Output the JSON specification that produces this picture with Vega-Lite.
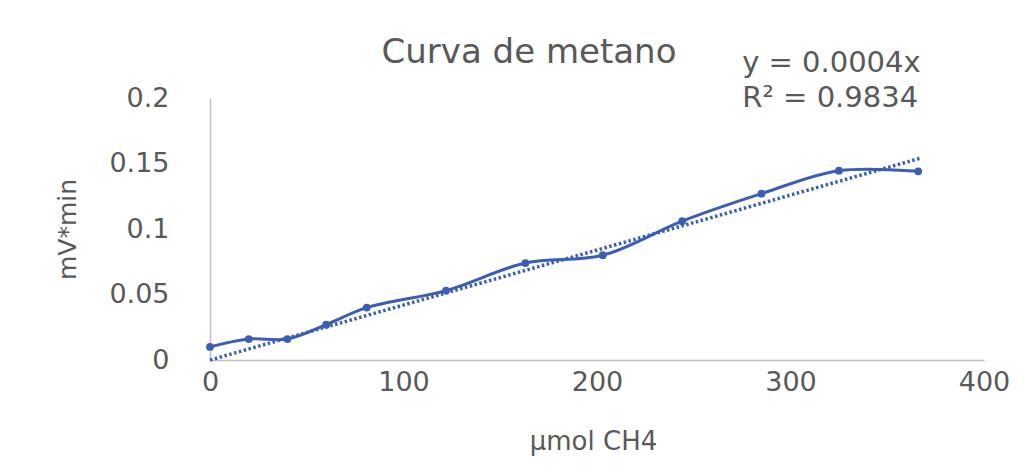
{
  "$schema": "https://vega.github.io/schema/vega-lite/v6.json",
  "width": 774,
  "height": 262,
  "padding": {"left": 210, "top": 98, "right": 45, "bottom": 112},
  "autosize": {"type": "none"},
  "background": "white",
  "config": {
    "view": {"stroke": null},
    "font": "DejaVu Sans",
    "axis": {"grid": false, "ticks": false, "domainColor": "#BFBFBF", "domainWidth": 1.5, "labelColor": "#595959", "titleColor": "#595959", "labelFont": "DejaVu Sans", "titleFont": "DejaVu Sans", "titleFontWeight": "normal", "labelFlush": false}
  },
  "title": {"text": "Curva de metano", "fontSize": 34, "fontWeight": "normal", "color": "#595959", "font": "DejaVu Sans", "dx": -68, "dy": 55, "offset": 34},
  "datasets": {
    "meas": [
      {"x": 0, "y": 0.010},
      {"x": 20, "y": 0.016},
      {"x": 40, "y": 0.016},
      {"x": 60, "y": 0.027},
      {"x": 81, "y": 0.040},
      {"x": 122, "y": 0.053},
      {"x": 163, "y": 0.074},
      {"x": 203, "y": 0.080},
      {"x": 244, "y": 0.106},
      {"x": 285, "y": 0.127},
      {"x": 325, "y": 0.1445},
      {"x": 366, "y": 0.144}
    ],
    "trend": [
      {"x": 0, "y": 0},
      {"x": 367, "y": 0.154}
    ],
    "eq": [
      {"x": 275, "y": 0.2266, "t": "y = 0.0004x"},
      {"x": 275, "y": 0.2, "t": "R² = 0.9834"}
    ]
  },
  "layer": [
    {
      "data": {"name": "trend"},
      "mark": {"type": "line", "color": "#3A5DB5", "strokeWidth": 3.5, "strokeDash": [2.5, 2.5]},
      "encoding": {
        "x": {"field": "x", "type": "quantitative", "scale": {"domain": [0, 400], "nice": false},
          "axis": {"values": [0, 100, 200, 300, 400], "title": "µmol CH4", "labelFontSize": 27, "titleFontSize": 26, "labelPadding": 9, "titleX": 383, "titleY": 81, "titleBaseline": "middle", "titleAlign": "center"}},
        "y": {"field": "y", "type": "quantitative", "scale": {"domain": [0, 0.2], "nice": false},
          "axis": {"values": [0, 0.05, 0.1, 0.15, 0.2], "format": "~r", "title": "mV*min", "labelFontSize": 27, "titleFontSize": 25, "labelPadding": 41, "titleX": -143, "titleY": 131, "titleAngle": -90, "titleBaseline": "middle", "titleAlign": "center"}}
      }
    },
    {
      "data": {"name": "meas"},
      "mark": {"type": "line", "color": "#3A5DB5", "strokeWidth": 3, "interpolate": "catmull-rom"},
      "encoding": {
        "x": {"field": "x", "type": "quantitative"},
        "y": {"field": "y", "type": "quantitative"}
      }
    },
    {
      "data": {"name": "meas"},
      "mark": {"type": "circle", "color": "#3A5DB5", "size": 60, "opacity": 1},
      "encoding": {
        "x": {"field": "x", "type": "quantitative"},
        "y": {"field": "y", "type": "quantitative"}
      }
    },
    {
      "data": {"name": "eq"},
      "mark": {"type": "text", "align": "left", "baseline": "middle", "fontSize": 29, "color": "#595959", "font": "DejaVu Sans"},
      "encoding": {
        "x": {"field": "x", "type": "quantitative"},
        "y": {"field": "y", "type": "quantitative"},
        "text": {"field": "t"}
      }
    }
  ]
}
